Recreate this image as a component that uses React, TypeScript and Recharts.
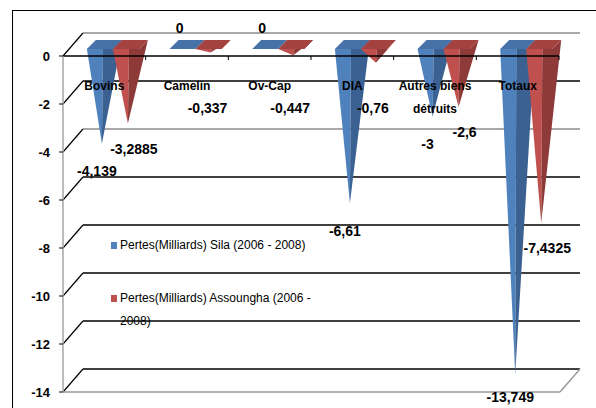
import React from 'react';
import { BarChart, Bar, XAxis, YAxis, CartesianGrid, Legend, LabelList, Text } from 'recharts';

// Chart values
const categories = ['Bovins', 'Camelin', 'Ov-Cap', 'DIA', 'Autres biens détruits', 'Totaux'];
const silaValues = [-4.139, 0, 0, -6.61, -3, -13.749];
const assounghaValues = [-3.2885, -0.337, -0.447, -0.76, -2.6, -7.4325];
const yTicks = [0, -2, -4, -6, -8, -10, -12, -14];
const seriesNames = ['Pertes(Milliards) Sila (2006 - 2008)', 'Pertes(Milliards) Assoungha (2006 - 2008)'];

const data = categories.map((name, i) => ({
  name,
  sila: silaValues[i],
  assoungha: assounghaValues[i],
}));

// Layout
const W = 596;
const H = 408;
const X_AXIS_H = 1;
const MARGIN = { top: 55, right: 37, bottom: 16, left: 13 };
const Y_AXIS_W = 50;
const PLOT_LEFT = MARGIN.left + Y_AXIS_W;
const PLOT_TOP = MARGIN.top + X_AXIS_H;
const PLOT_BOTTOM = H - MARGIN.bottom;
const PLOT_W = W - MARGIN.right - PLOT_LEFT;
const DX = 20; // 3d depth offset
const DY = 23;
const FONT = '"Liberation Sans", Arial, sans-serif';

const BLUE = { light: '#4f81bd', dark: '#3a6192', top: '#4672a8' };
const RED = { light: '#c0504d', dark: '#8e3a38', top: '#a4423f' };

const fmt = (v: number) => (v === 0 ? '0' : String(v).replace('.', ','));

// geometry of a cone from the bar box
const coneGeom = (x: number, y: number, width: number, height: number) => {
  const zeroY = Math.min(y, y + height);
  const valY = Math.max(y, y + height);
  const fx0 = x + DX / 2 - 1;
  const fx1 = fx0 + width;
  const fy = zeroY - 7;
  const by = zeroY - 16;
  const tipX = fx0 + width / 2 + 2;
  const tipY = valY - DY / 2;
  return { zeroY, valY, fx0, fx1, fy, by, tipX, tipY };
};

const makeCone = (c: { light: string; dark: string; top: string }) => (props: any) => {
  const { x, y, width, height } = props;
  if (x == null || y == null) return <g />;
  const g = coneGeom(x, y, width, height || 0);
  const mid = g.fx0 + width * 0.62;
  const pts = (arr: number[][]) => arr.map((p) => p.join(',')).join(' ');
  return (
    <g>
      {g.tipY > g.fy && (
        <>
          <polygon points={pts([[g.fx0, g.fy], [mid, g.fy], [g.tipX, g.tipY]])} fill={c.light} />
          <polygon
            points={pts([[mid, g.fy], [g.fx1, g.fy], [g.fx1 + 9, g.by], [g.tipX, g.tipY]])}
            fill={c.dark}
          />
        </>
      )}
      <polygon
        points={pts([[g.fx0, g.fy], [g.fx1, g.fy], [g.fx1 + 9, g.by], [g.fx0 + 9, g.by]])}
        fill={c.top}
      />
    </g>
  );
};

const makeLabel = (series: 'sila' | 'assoungha') => (props: any) => {
  const box = props.viewBox && props.viewBox.width != null ? props.viewBox : props;
  const { x, y, width, height } = box;
  const value = Number(props.value);
  if (x == null || y == null) return null;
  const g = coneGeom(x, y, width, height || 0);
  let cx: number;
  let cy: number;
  if (series === 'sila') {
    cx = g.tipX - 5;
    cy = value === 0 ? g.zeroY - 28 : Math.min(g.valY + 16, H - 11);
  } else {
    const minY = g.zeroY + 52;
    const clamped = g.valY + 14 < minY;
    cx = clamped ? g.tipX - 3 : g.tipX + 6;
    cy = clamped ? minY : g.valY + 14;
  }
  return (
    <text x={cx} y={cy + 5} textAnchor="middle" fontFamily={FONT} fontWeight="bold" fontSize={14} fill="#000">
      {fmt(value)}
    </text>
  );
};

// back wall grid with left diagonals, plus the floor
const renderGridLine = (props: any) => {
  const { x1, x2, y1 } = props;
  const y = y1;
  const isFloor = Math.abs(y - PLOT_BOTTOM) < 1;
  const grey = Math.abs(y - PLOT_TOP) < 1 || Math.abs(y - (PLOT_TOP + 96)) < 1;
  return (
    <g key={props.key}>
      <line x1={x1} y1={y} x2={x1 + DX} y2={y - DY} stroke="#000" strokeWidth={1.2} />
      <line
        x1={x1 + DX}
        y1={y - DY}
        x2={x2 + DX + 1}
        y2={y - DY}
        stroke={grey ? '#8c8c8c' : '#000'}
        strokeWidth={grey ? 1.5 : 1.6}
      />
      {isFloor && (
        <>
          <line x1={x1} y1={y} x2={x2 + 1} y2={y} stroke="#9a9a9a" strokeWidth={1.5} />
          <line x1={x2 + 1} y1={y} x2={x2 + DX + 1} y2={y - DY} stroke="#9a9a9a" strokeWidth={1.5} />
        </>
      )}
    </g>
  );
};

const CategoryTick = (props: any) => {
  const { x, payload } = props;
  const band = PLOT_W / categories.length;
  return (
    <g>
      <line x1={x + band / 2} y1={PLOT_TOP} x2={x + band / 2} y2={PLOT_TOP + 4} stroke="#000" />
      <Text
        x={x}
        y={PLOT_TOP + 25}
        width={95}
        textAnchor="middle"
        verticalAnchor="start"
        lineHeight={23}
        fontFamily={FONT}
        fontWeight="bold"
        fontSize={12}
        fill="#000"
      >
        {payload.value}
      </Text>
    </g>
  );
};

const LegendBox = () => {
  const colors = [BLUE.light, RED.light];
  return (
    <div style={{ fontFamily: FONT, fontSize: 12, color: '#000', textAlign: 'left' }}>
      {seriesNames.map((name, i) => (
        <div
          key={name}
          style={{ display: 'flex', alignItems: 'flex-start', lineHeight: '23px', marginTop: i ? 30 : 0 }}
        >
          <span
            style={{ width: 6, height: 7, background: colors[i], marginTop: 8, marginRight: 3, flexShrink: 0 }}
          />
          <span style={{ width: 196 }}>{name}</span>
        </div>
      ))}
    </div>
  );
};

export default function App() {
  return (
    <div style={{ position: 'absolute', left: 0, top: 0, width: W, height: H, background: '#fff', overflow: 'hidden' }}>
      <div
        style={{
          position: 'absolute',
          left: 12,
          top: 10,
          width: W,
          height: H,
          borderLeft: '1.5px solid #000',
          borderTop: '1.5px solid #000',
        }}
      />
      <BarChart
        width={W}
        height={H}
        data={data}
        margin={MARGIN}
        barCategoryGap="18%"
        barGap={0}
        style={{ position: 'absolute', left: 0, top: 0 }}
      >
        <CartesianGrid vertical={false} horizontal={renderGridLine} />
        <XAxis
          dataKey="name"
          orientation="top"
          height={X_AXIS_H}
          tickLine={false}
          axisLine={{ stroke: '#000', strokeWidth: 1.5 }}
          tick={<CategoryTick />}
          interval={0}
        />
        <YAxis
          type="number"
          domain={[-14, 0]}
          ticks={yTicks}
          width={Y_AXIS_W}
          axisLine={{ stroke: '#a6a6a6', strokeWidth: 1.5 }}
          tickLine={{ stroke: '#000' }}
          tickSize={4}
          tickMargin={9}
          tick={{ fontFamily: FONT, fontWeight: 'bold', fontSize: 13, fill: '#000' }}
          interval={0}
        />
        <Legend
          layout="horizontal"
          verticalAlign="middle"
          align="center"
          content={<LegendBox />}
          wrapperStyle={{ left: 111, top: 234, width: 220 }}
        />
        <Bar dataKey="sila" name={seriesNames[0]} shape={makeCone(BLUE)} isAnimationActive={false}>
          <LabelList dataKey="sila" content={makeLabel('sila')} />
        </Bar>
        <Bar dataKey="assoungha" name={seriesNames[1]} shape={makeCone(RED)} isAnimationActive={false}>
          <LabelList dataKey="assoungha" content={makeLabel('assoungha')} />
        </Bar>
      </BarChart>
    </div>
  );
}
